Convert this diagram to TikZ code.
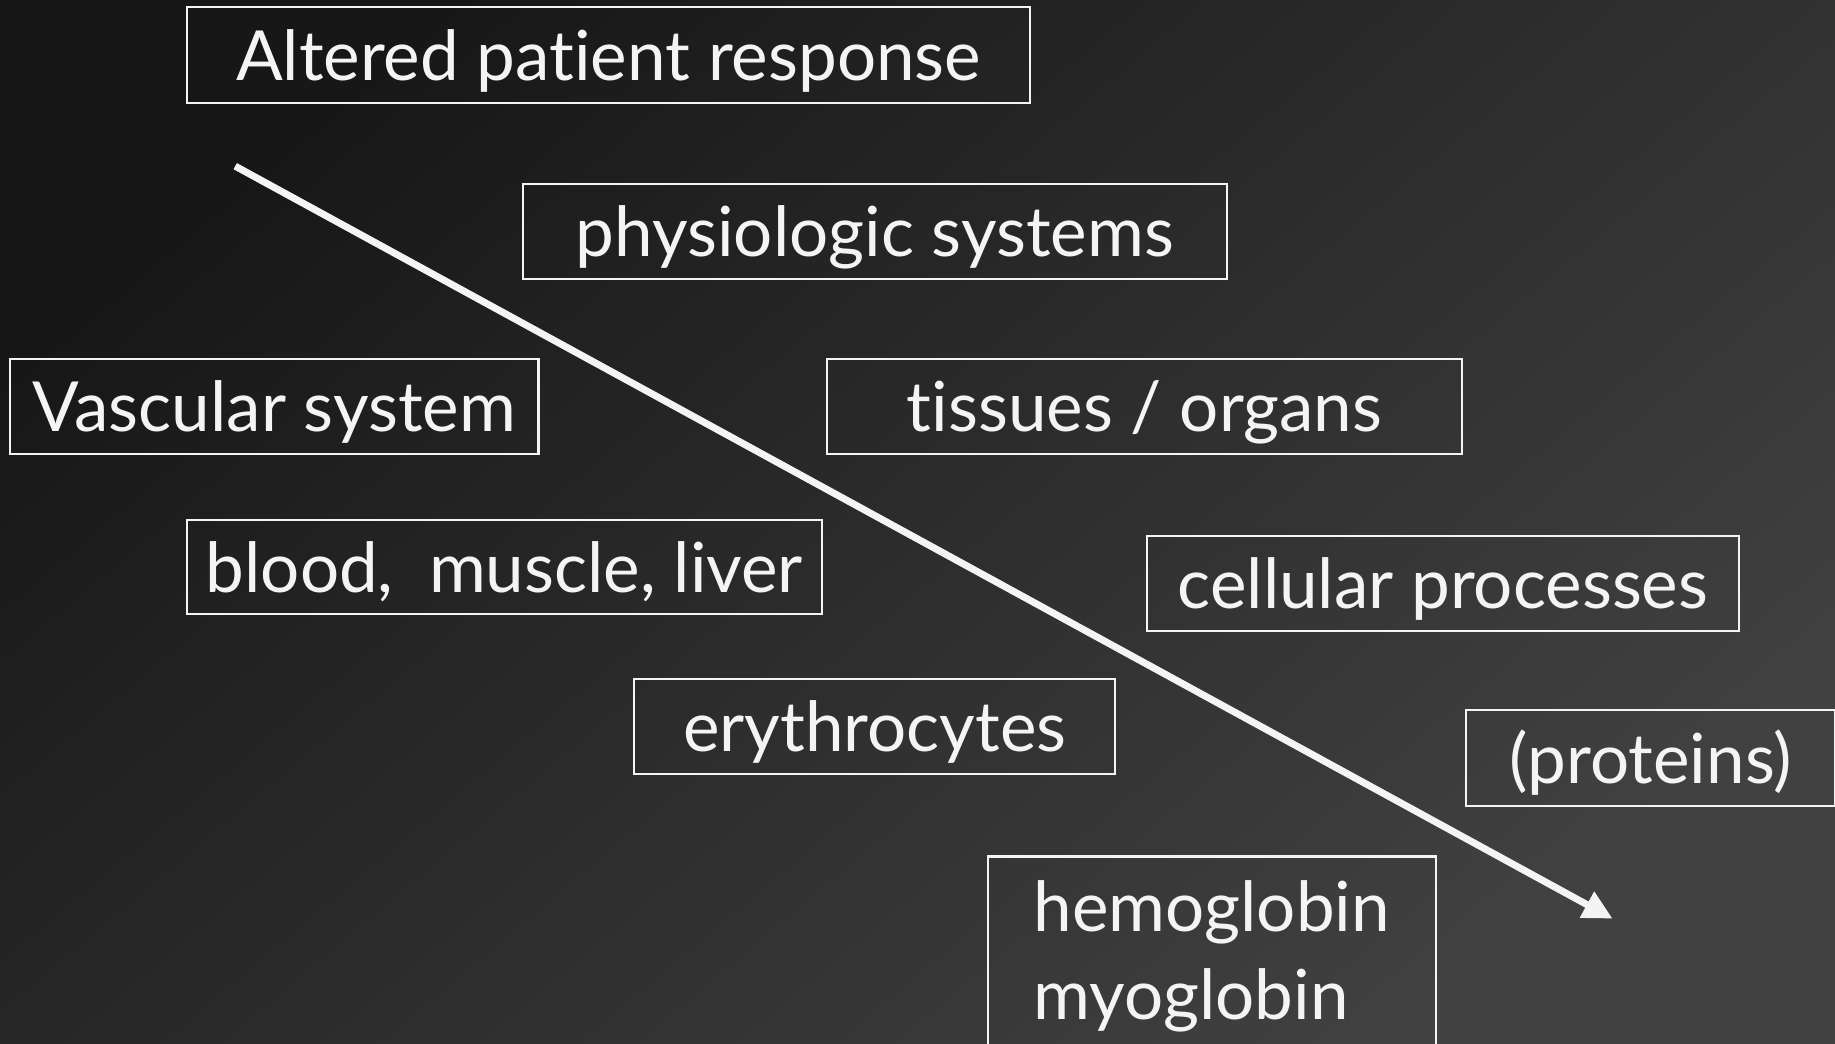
\documentclass[tikz,border=0pt]{standalone}
\usepackage{fontspec}
\setmainfont{Lato}[Ligatures={NoCommon,TeX}]
\usetikzlibrary{arrows.meta}
\definecolor{bgdark}{HTML}{171717}
\definecolor{bglight}{HTML}{414141}
\definecolor{fg}{HTML}{F4F4F4}
\tikzset{
  lvl/.style={draw=fg, line width=0.5pt, text=fg, inner sep=0pt,
    font=\fontsize{16.8}{21.3}\selectfont,
    text height=0.43cm, text depth=0cm, minimum height=0.81cm},
  flow/.style={draw=fg, line width=1.7pt, -{Triangle[length=0.25cm,width=0.24cm]}}
}
\begin{document}
\begin{tikzpicture}[x=0.01cm,y=-0.01cm]
\clip (0,0) rectangle (1568,892);
\shade[shading=axis, top color=bgdark, bottom color=bglight, shading angle=40]
  (0,0) rectangle (1568,892);

\node[lvl, minimum width=7.20cm, minimum height=0.82cm] (apr) at (520,47) {Altered patient response};
\node[lvl, minimum width=6.01cm] (phys) at (747.5,197.5) {physiologic systems};
\node[lvl, minimum width=4.51cm] (vasc) at (234.5,347.5) {Vascular system};
\node[lvl, minimum width=5.42cm] (tiss) at (978,347.5) {tissues / organs};
\node[lvl, minimum width=5.42cm] (bml) at (431,484.5) {blood,\ \ muscle, liver};
\node[lvl, minimum width=5.06cm] (cell) at (1233,498.5) {cellular processes};
\node[lvl, minimum width=4.11cm] (ery) at (747.5,620.5) {erythrocytes};
\node[lvl, minimum width=3.15cm, minimum height=0.82cm] (prot) at (1410.5,648) {(proteins)};
\node[lvl, anchor=north west, minimum width=3.83cm,
      text height=0.64cm, text depth=1.20cm] (glob) at (843,731)
  {\begin{tabular}[t]{@{}l@{}}hemoglobin\\myoglobin\end{tabular}};

\coordinate (fstart) at (201,142);
\coordinate (fend) at (1378,785);
\draw[flow] (fstart) -- (fend);
\end{tikzpicture}
\end{document}
